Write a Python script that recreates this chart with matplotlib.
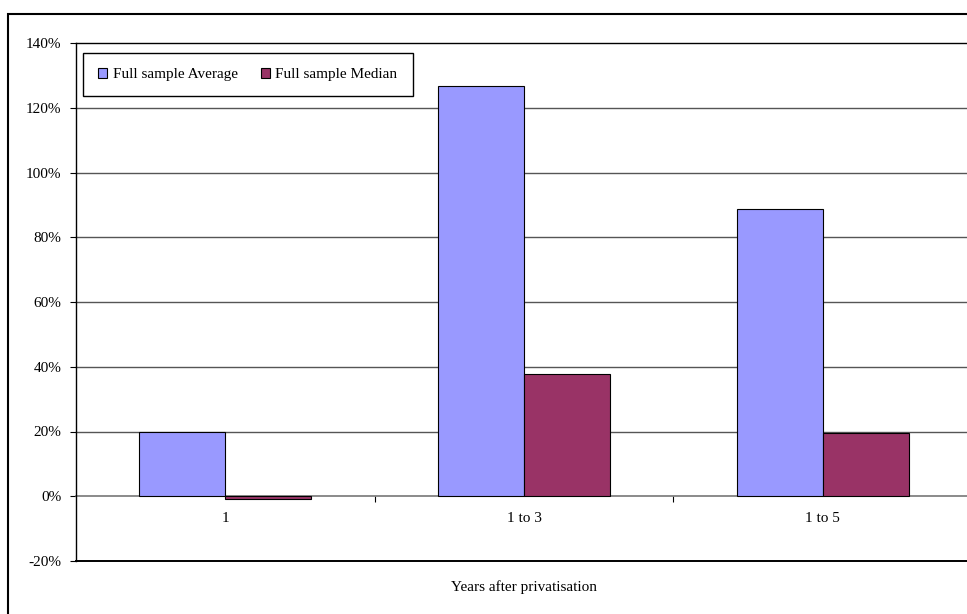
import matplotlib
matplotlib.use("Agg")
import matplotlib.pyplot as plt
import matplotlib.patches as mpatches
from matplotlib.ticker import FuncFormatter, FixedLocator
import numpy as np

categories = ["1", "1 to 3", "1 to 5"]
avg_values = [0.200, 1.267, 0.886]
median_values = [-0.009, 0.378, 0.195]
series_names = ["Full sample Average", "Full sample Median"]
y_ticks = [-0.2, 0.0, 0.2, 0.4, 0.6, 0.8, 1.0, 1.2, 1.4]
x_label = "Years after privatisation"

plt.rcParams['font.family'] = ['Liberation Serif', 'DejaVu Serif']
FS = 11

W, H = 967, 614
fig = plt.figure(figsize=(W / 100, H / 100), dpi=100)

left, right, top, bottom = 76, 972, 43, 561
ax = fig.add_axes([left / W, (H - bottom) / H, (right - left) / W, (bottom - top) / H])

x = np.arange(len(categories))
bw = 0.288
ax.bar(x - bw / 2, avg_values, bw, color="#9999FF", edgecolor="black", linewidth=0.8, zorder=3,
       label=series_names[0])
ax.bar(x + bw / 2, median_values, bw, color="#993366", edgecolor="black", linewidth=0.8, zorder=3,
       label=series_names[1])

ax.set_xlim(-0.5, len(categories) - 0.5)
ax.set_ylim(y_ticks[0], y_ticks[-1])

# gridlines
for t in y_ticks:
    if t == 0:
        continue
    edge = t in (y_ticks[0], y_ticks[-1])
    ax.axhline(t, color="black" if edge else "#555555",
               linewidth=1.4 if t == y_ticks[0] else 1.0, zorder=1, clip_on=False)

ax.set_yticks(y_ticks)
ax.yaxis.set_major_formatter(FuncFormatter(lambda v, p: f"{v*100:.0f}%"))
ax.tick_params(axis="y", direction="out", length=4, width=0.8, pad=6.5, color="black",
               labelsize=FS)

# x axis at zero
ax.spines['bottom'].set_position(('data', 0))
ax.spines['bottom'].set_color("#777777")
ax.spines['bottom'].set_linewidth(1.2)
ax.spines['bottom'].set_zorder(2)
ax.spines['top'].set_visible(False)
ax.spines['right'].set_visible(False)
ax.spines['left'].set_linewidth(1.0)

ax.xaxis.set_major_locator(FixedLocator(x[:-1] + 0.5))
ax.xaxis.set_major_formatter(FuncFormatter(lambda v, p: ""))
ax.xaxis.set_minor_locator(FixedLocator(x))
ax.set_xticklabels(categories, minor=True)
ax.tick_params(axis="x", which="major", direction="out", length=4, width=0.8, color="black")
ax.tick_params(axis="x", which="minor", length=0, pad=11, labelsize=FS)

ax.set_xlabel(x_label, fontsize=FS)
ax.xaxis.set_label_coords(0.5, -0.037)
ax.xaxis.label.set_va("top")

leg = ax.legend(loc="upper left", bbox_to_anchor=((83 - left) / (right - left), (bottom - 52.7) / (bottom - top)),
                borderaxespad=0, ncol=2, frameon=True, fancybox=False, edgecolor="black",
                framealpha=1, handlelength=0.6, handleheight=0.6, handletextpad=0.35,
                columnspacing=1.5, borderpad=1.0, fontsize=FS)
leg.get_frame().set_linewidth(1.0)
leg.set_zorder(5)

# outer chart frame
frame = mpatches.Rectangle((7.5 / W, -0.1), 1.2, (H - 14) / H + 0.1, transform=fig.transFigure,
                           fill=False, edgecolor="black", linewidth=1.5, clip_on=False)
fig.patches.append(frame)

fig.savefig("out.png", dpi=100)
